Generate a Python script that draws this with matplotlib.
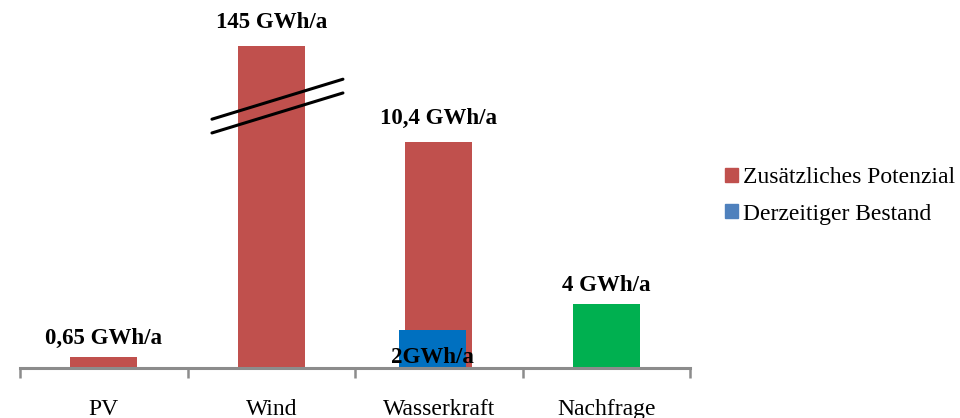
import matplotlib.pyplot as plt
import numpy as np

# categories and values (GWh/a)
categories = ["PV", "Wind", "Wasserkraft", "Nachfrage"]
label_texts = ["0,65 GWh/a", "145 GWh/a", "10,4 GWh/a", "4 GWh/a"]
# drawn bar heights as they appear in the picture (Wind axis is broken)
potential_heights = [0.68, 20.1, 14.1, 0.0]
demand_heights = [0.0, 0.0, 0.0, 4.0]
existing_heights = [0.0, 0.0, 2.4, 0.0]
existing_label = "2GWh/a"
label_offsets = [6, 10, 10, 6]  # points above the bar top

red = "#C0504D"
blue = "#0070C0"
legend_blue = "#4F81BD"
green = "#00B050"

plt.rcParams["font.family"] = ["Liberation Serif", "DejaVu Serif"]

fig = plt.figure(figsize=(9.6, 4.18), dpi=100)
ax = fig.add_axes([20 / 960, 50 / 418, 670 / 960, 368 / 418])

x = np.arange(len(categories))
w = 0.4

ax.bar(x, potential_heights, width=w, color=red, zorder=2)
ax.bar(x, demand_heights, width=w, color=green, zorder=2)
ax.bar(x - 0.04, existing_heights, width=w, color=blue, zorder=3)

tops = np.maximum(np.array(potential_heights), np.array(demand_heights))
for i, (t, txt) in enumerate(zip(tops, label_texts)):
    ax.annotate(txt, (x[i], t), xytext=(0, label_offsets[i]), textcoords="offset points",
                ha="center", va="bottom", fontsize=16.5, fontweight="bold")

# label of the existing stock, sitting at the bottom of the blue bar
ax.text(x[2] - 0.04, 0.0, existing_label, ha="center", va="bottom",
        fontsize=16.5, fontweight="bold", zorder=4)

# break marks on the wind bar
wind = x[1]
bx = np.array([wind - 0.354, wind + 0.428])
slope = 2.5 / 0.782
for yc in (16.8, 15.94):
    by = yc + (bx - (wind + 0.037)) * slope
    ax.plot(bx, by, color="black", lw=2.2, zorder=5, solid_capstyle="round")

ax.set_xlim(-0.5, len(categories) - 0.5)
ax.set_ylim(0, 23)
for s in ("top", "right", "left"):
    ax.spines[s].set_visible(False)
ax.spines["bottom"].set_color("#8C8C8C")
ax.spines["bottom"].set_linewidth(2.2)
ax.spines["bottom"].set_zorder(6)
ax.set_yticks([])

ax.set_xticks(np.arange(-0.5, len(categories)), minor=False)
ax.set_xticklabels([])
ax.tick_params(axis="x", which="major", length=7, width=1.8, color="#8C8C8C", direction="out")
ax.set_xticks(x, minor=True)
ax.set_xticklabels(categories, minor=True, fontsize=17)
ax.tick_params(axis="x", which="minor", length=0, pad=22)

# legend
handles = [plt.Rectangle((0, 0), 1, 1, color=red), plt.Rectangle((0, 0), 1, 1, color=legend_blue)]
fig.legend(handles, ["Zusätzliches Potenzial", "Derzeitiger Bestand"],
           loc="center left", bbox_to_anchor=(713 / 960, 222 / 418), frameon=False,
           fontsize=17, handlelength=0.55, handleheight=0.55, handletextpad=0.2,
           labelspacing=0.65, borderpad=0.0)

fig.savefig("out.png", dpi=100)
